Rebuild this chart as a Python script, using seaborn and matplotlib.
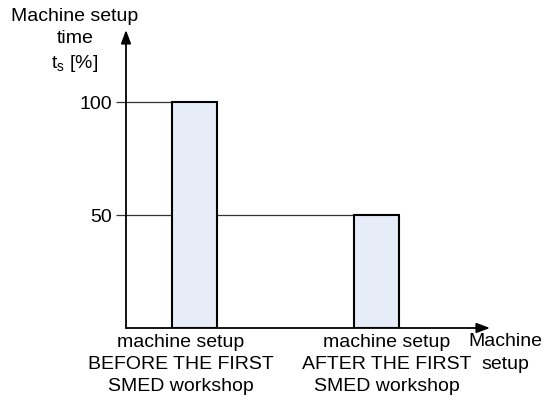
import matplotlib
matplotlib.use("Agg")
import matplotlib.pyplot as plt
import matplotlib.transforms as mtransforms
import pandas as pd
import seaborn as sns

# Chart data
categories = [
    "machine setup\nBEFORE THE FIRST\nSMED workshop",
    "machine setup\nAFTER THE FIRST\nSMED workshop",
]
setup_time = [100, 50]
yticks = [50, 100]

df = pd.DataFrame({"setup": categories, "time": setup_time})

sns.set_style("white")
plt.rcParams["font.family"] = ["Liberation Sans", "DejaVu Sans"]
plt.rcParams["mathtext.default"] = "regular"
plt.rcParams["text.color"] = "black"
plt.rcParams["xtick.color"] = "black"
plt.rcParams["ytick.color"] = "black"

FS = 14
LS = 1.42

fig = plt.figure(figsize=(5.48, 4.0), dpi=100)
ax = fig.add_axes([126 / 548, 1 - 328 / 400, (490 - 126) / 548, (328 - 30) / 400])

bar_w = 0.25
sns.barplot(
    data=df, x="setup", y="time", ax=ax, width=bar_w,
    color="#e6ecf8", edgecolor="black", linewidth=1.5, saturation=1, zorder=3,
)

ax.set_xlim(-0.376, 1.624)
ax.set_ylim(0, 131.9)

# reference lines from the axis to the bar that reaches each level
for v in yticks:
    target = [i for i, s in enumerate(setup_time) if s == v][0]
    ax.plot([-0.376, target - bar_w / 2], [v, v], color="#333333", lw=0.9, zorder=1)

ax.set_yticks(yticks)
ax.tick_params(axis="y", direction="out", length=7, width=0.9, color="#333333",
               labelcolor="black", labelsize=FS, pad=3, left=True)
ax.tick_params(axis="x", length=0, labelsize=FS, labelcolor="black", pad=4)
# labels sit slightly off the bar centres in the original
for lab, dx in zip(ax.get_xticklabels(), [-14, 10]):
    lab.set_linespacing(LS)
    lab.set_transform(lab.get_transform() +
                      mtransforms.ScaledTranslation(dx / 100, 0, fig.dpi_scale_trans))

for s in ax.spines.values():
    s.set_visible(False)

# axis arrows
ax.annotate("", xy=(1.0, 0), xytext=(0, 0), xycoords="axes fraction",
            arrowprops=dict(arrowstyle="-|>,head_length=0.8,head_width=0.3",
                            color="black", lw=1.3, shrinkA=0, shrinkB=0))
ax.annotate("", xy=(0, 1.0), xytext=(0, 0), xycoords="axes fraction",
            arrowprops=dict(arrowstyle="-|>,head_length=0.8,head_width=0.3",
                            color="black", lw=1.3, shrinkA=0, shrinkB=0))

ax.set_xlabel("")
ax.set_ylabel("")
fig.text(75 / 548, 1 - 41 / 400, "Machine setup\ntime\nt$_s$ [%]", ha="center",
         va="center", fontsize=FS, linespacing=LS)
fig.text(505 / 548, 1 - 353 / 400, "Machine\nsetup", ha="center", va="center",
         fontsize=FS, linespacing=LS)

fig.savefig("out.png", dpi=100)
